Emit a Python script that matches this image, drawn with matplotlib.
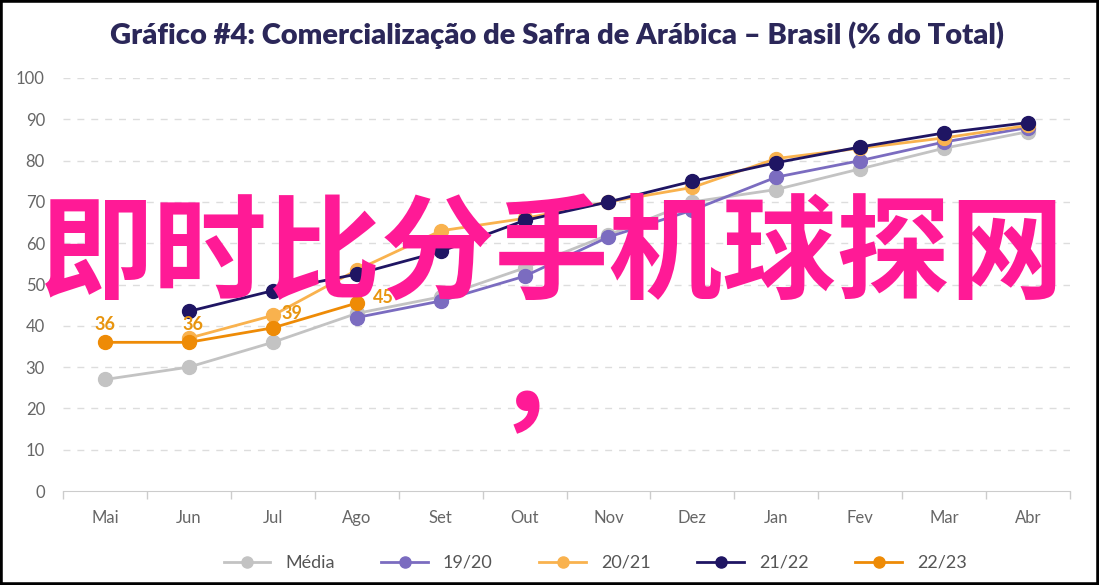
import numpy as np
import matplotlib.pyplot as plt
from matplotlib.patches import Rectangle
from matplotlib.lines import Line2D

nan = np.nan

months = ["Mai", "Jun", "Jul", "Ago", "Set", "Out", "Nov", "Dez", "Jan", "Fev", "Mar", "Abr"]
media = [27, 30, 36, 43, 47, 54, 62, 70, 73, 78, 83, 87]
s1920 = [nan, nan, nan, 42, 46, 52, 61.5, 68, 76, 80, 84.5, 88]
s2021 = [nan, 37, 42.5, 53.5, 63, 66, 70, 73.5, 80.5, 83, 85.5, 88.5]
s2122 = [nan, 43.5, 48.5, 52.5, 58, 65.5, 70, 75, 79.5, 83.3, 86.7, 89.2]
s2223 = [36, 36, 39.5, 45.5, nan, nan, nan, nan, nan, nan, nan, nan]
labels2223 = ["36", "36", "39", "45"]

series = [
    ("Média", media, "#c3c3c3"),
    ("19/20", s1920, "#7b6cc0"),
    ("20/21", s2021, "#f9b24e"),
    ("21/22", s2122, "#1f1563"),
    ("22/23", s2223, "#ee8b06"),
]

plt.rcParams['font.family'] = ['Lato', 'DejaVu Sans']

fig = plt.figure(figsize=(10.99, 5.85), dpi=100)
ax = fig.add_axes([63 / 1099, 1 - 491 / 585, 1007 / 1099, 413 / 585])

x = np.arange(len(months))
for name, vals, col in series:
    ax.plot(x, vals, color=col, lw=2, marker="o", ms=10, label=name)

# label offsets (points) – the source dodges the lines a bit
offs = [(0, 7), (3, 7), (14, 4), (19, -2)]
for i, lab in enumerate(labels2223):
    ax.annotate(lab, (x[i], s2223[i]), xytext=offs[i], textcoords="offset points",
                ha="center", va="bottom", color="#e8950f", fontsize=13, fontweight="bold")

ax.set_xlim(-0.5, 11.5)
ax.set_ylim(0, 100)
ax.set_yticks(range(0, 101, 10))
ax.set_xticks(x)
ax.set_xticklabels(months)
ax.set_xticks(np.arange(-0.5, 12, 1), minor=True)
ax.tick_params(axis="y", length=0, pad=13, labelsize=12, labelcolor="#666666")
ax.tick_params(axis="x", which="major", length=0, pad=14, labelsize=12, labelcolor="#666666")
ax.tick_params(axis="x", which="minor", length=6, color="#cccccc", width=1)
for s in ["top", "right", "left"]:
    ax.spines[s].set_visible(False)
ax.spines["bottom"].set_color("#cccccc")
ax.grid(axis="y", color="#dddddd", ls=(0, (5, 5)), lw=1)
ax.set_axisbelow(True)
# hide the gridline at 0 behind the axis
ax.yaxis.get_gridlines()[0].set_visible(False)

handles = [Line2D([0], [0], color=c, lw=2, marker="o", ms=8) for _, _, c in series]
fig.legend(handles, [n for n, _, _ in series], loc="center", bbox_to_anchor=(595 / 1099, 1 - 563 / 585),
           ncol=5, frameon=False, fontsize=13, handlelength=2.6, columnspacing=2.6,
           labelcolor="#555555")

fig.text(557 / 1099, 1 - 35 / 585, "Gráfico #4: Comercialização de Safra de Arábica – Brasil (% do Total)",
         ha="center", va="center", fontsize=21, fontweight="heavy", color="#2b2759")

fig.text(552 / 1099, 1 - 199 / 585, "即时比分手机球探网\n，", ha="center", va="top",
         fontsize=82, fontweight="bold", color="#ff1a96", linespacing=1.12,
         family=["Noto Sans CJK SC", "DejaVu Sans"])

fig.patches.append(Rectangle((0, 0), 1, 1, transform=fig.transFigure, fill=False,
                             edgecolor="black", lw=4))

fig.savefig("out.png", dpi=100)
